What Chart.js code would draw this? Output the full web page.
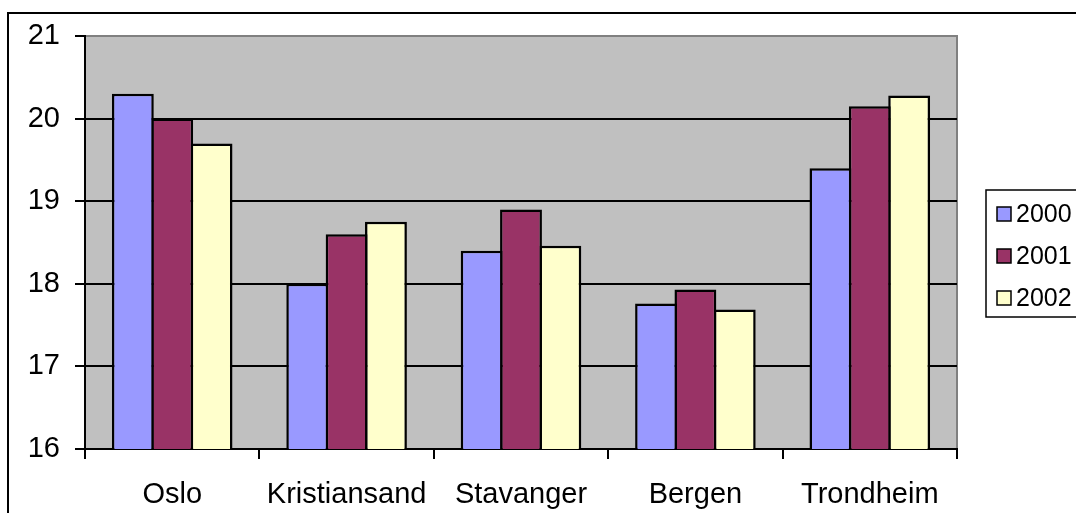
<!DOCTYPE html>
<html>
<head>
<meta charset="utf-8">
<script src="https://cdn.jsdelivr.net/npm/chart.js@4/dist/chart.umd.min.js"></script>
<style>
  html, body { margin: 0; padding: 0; background: #fff; overflow: hidden; }
  #wrap { position: relative; width: 1076px; height: 513px; }
  #frame { position: absolute; left: 7px; top: 12px; width: 1200px; height: 600px; border: 2px solid #000; }
  canvas { position: absolute; left: 0; top: 0; }
</style>
</head>
<body>
<div id="wrap">
  <div id="frame"></div>
  <canvas id="chart" width="1076" height="513"></canvas>
</div>
<script>
const cities = ['Oslo', 'Kristiansand', 'Stavanger', 'Bergen', 'Trondheim']
const years = ['2000', '2001', '2002']
const values2000 = [20.3, 18.0, 18.4, 17.76, 19.4]
const values2001 = [20.0, 18.6, 18.9, 17.93, 20.15]
const values2002 = [19.7, 18.75, 18.46, 17.69, 20.28]
const colors = ['#9999FF', '#993366', '#FFFFCC']

const FONT = "'Liberation Sans', Arial, sans-serif"

// grey plot area with a grey right/top edge, like the old Excel look
const plotBg = {
  id: 'plotBg',
  beforeDraw(chart) {
    const a = chart.chartArea
    const ctx = chart.ctx
    ctx.save()
    ctx.fillStyle = '#C0C0C0'
    ctx.fillRect(a.left, a.top, a.right - a.left, a.bottom - a.top)
    ctx.strokeStyle = '#808080'
    ctx.lineWidth = 2
    ctx.beginPath()
    ctx.moveTo(a.left, a.top)
    ctx.lineTo(a.right, a.top)
    ctx.lineTo(a.right, a.bottom)
    ctx.stroke()
    ctx.restore()
  }
}

// boxed legend on the right
const boxLegend = {
  id: 'boxLegend',
  afterDraw(chart) {
    const ctx = chart.ctx
    const x = 986, y = 190, w = 120, h = 127
    ctx.save()
    ctx.fillStyle = '#fff'
    ctx.fillRect(x, y, w, h)
    ctx.strokeStyle = '#000'
    ctx.lineWidth = 1.5
    ctx.strokeRect(x, y, w, h)
    ctx.font = '25px ' + FONT
    ctx.textBaseline = 'middle'
    chart.data.datasets.forEach(function(ds, i) {
      let cy = 214 + i * 42
      ctx.fillStyle = ds.backgroundColor
      ctx.fillRect(997, cy - 7, 14, 14)
      ctx.lineWidth = 1.5
      ctx.strokeStyle = '#000'
      ctx.strokeRect(997, cy - 7, 14, 14)
      ctx.fillStyle = '#000'
      ctx.fillText(ds.label, 1016, cy + 1)
    })
    ctx.restore()
  }
}

function makeDataset(label, data, i) {
  return {
    label: label,
    data: data,
    backgroundColor: colors[i],
    borderColor: '#000',
    borderWidth: 2.5,
    borderSkipped: 'start',
    inflateAmount: 0,
    // a touch over 1 so neighbouring bars share one edge
    barPercentage: 1.064,
    categoryPercentage: 0.677
  }
}

new Chart(document.getElementById('chart'), {
  type: 'bar',
  data: {
    labels: cities,
    datasets: [
      makeDataset(years[0], values2000, 0),
      makeDataset(years[1], values2001, 1),
      makeDataset(years[2], values2002, 2)
    ]
  },
  options: {
    responsive: false,
    animation: false,
    devicePixelRatio: 1,
    layout: { padding: { left: 0, top: 36, right: 119, bottom: 0 } },
    plugins: {
      legend: { display: false },
      tooltip: { enabled: false }
    },
    scales: {
      x: {
        grid: { display: true, drawOnChartArea: false, offset: true, color: '#000', lineWidth: 2, tickLength: 10 },
        border: { display: true, color: '#000', width: 2 },
        ticks: { color: '#000', font: { family: FONT, size: 29 }, padding: 19, maxRotation: 0, autoSkip: false },
        afterFit(scale) { scale.height = 64 }
      },
      y: {
        min: 16,
        max: 21,
        ticks: { stepSize: 1, color: '#000', font: { family: FONT, size: 29 }, padding: 15 },
        grid: {
          color: ctx => (ctx.tick && ctx.tick.value === 21) ? '#808080' : '#000',
          tickColor: '#000',
          lineWidth: 2,
          tickLength: 10
        },
        border: { display: true, color: '#000', width: 2 },
        afterFit(scale) { scale.width = 85 }
      }
    }
  },
  plugins: [plotBg, boxLegend]
})
</script>
</body>
</html>
